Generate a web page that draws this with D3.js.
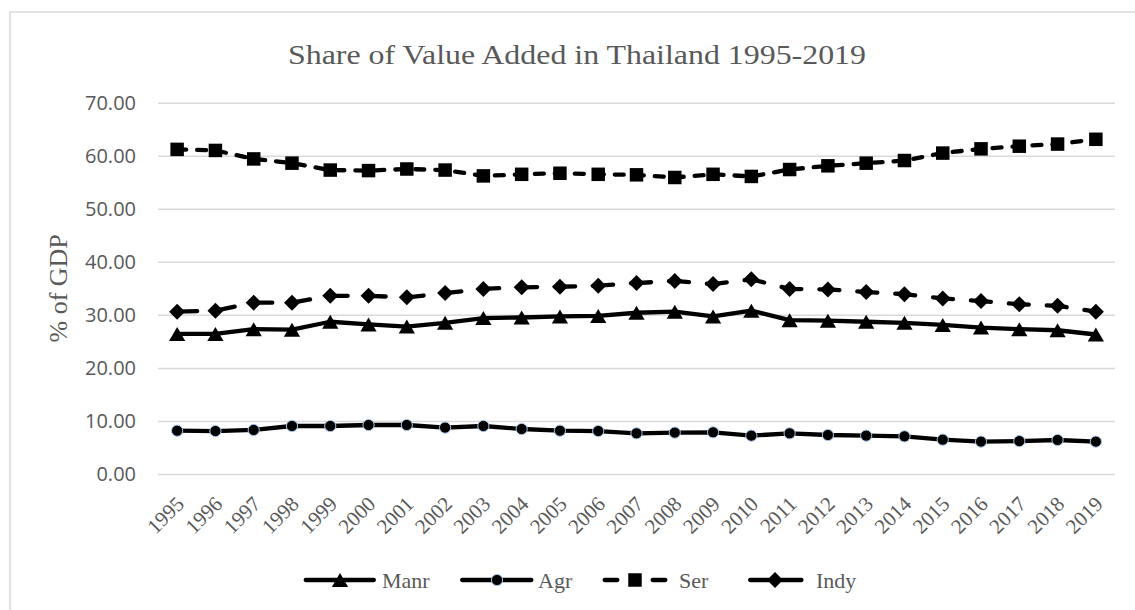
<!DOCTYPE html>
<html>
<head>
<meta charset="utf-8">
<script src="https://cdn.jsdelivr.net/npm/d3@7"></script>
<style>
  html, body { margin: 0; padding: 0; background: #ffffff; }
  svg { display: block; }
</style>
</head>
<body>
<svg id="chart" width="1135" height="610"></svg>
<script>
// ---------------- data ----------------
const years = ["1995","1996","1997","1998","1999","2000","2001","2002","2003","2004","2005","2006","2007","2008","2009","2010","2011","2012","2013","2014","2015","2016","2017","2018","2019"];
const manr = [26.4,26.4,27.3,27.2,28.7,28.2,27.8,28.5,29.4,29.5,29.7,29.8,30.4,30.6,29.7,30.8,29.0,28.9,28.7,28.5,28.1,27.6,27.3,27.1,26.3];
const agr  = [8.16,8.10,8.30,9.05,9.05,9.24,9.24,8.74,9.05,8.48,8.16,8.10,7.67,7.80,7.86,7.23,7.67,7.35,7.23,7.10,6.47,6.10,6.20,6.41,6.10];
const ser  = [61.2,61.0,59.4,58.6,57.3,57.2,57.5,57.3,56.2,56.5,56.7,56.5,56.4,55.9,56.5,56.1,57.4,58.1,58.6,59.1,60.5,61.3,61.8,62.2,63.1];
const indy = [30.6,30.8,32.3,32.3,33.6,33.6,33.3,34.1,34.9,35.2,35.3,35.5,36.0,36.4,35.8,36.7,34.9,34.8,34.3,33.9,33.1,32.6,32.0,31.7,30.6];
const yTicks = [0,10,20,30,40,50,60,70];
const seriesNames = ["Manr","Agr","Ser","Indy"];
const titleText = "Share of Value Added in Thailand 1995-2019";
const yTitleText = "% of GDP";

// ---------------- layout ----------------
const svg = d3.select("#chart");
const W = 1135, H = 610;
const plot = {left: 158, right: 1115, top: 102.7, bottom: 474};
const gray = "#595959";
const serif = "'Liberation Serif', 'Times New Roman', serif";
const sans = "'Open Sans', 'Liberation Sans', sans-serif";
const LW = 4.3;

svg.append("rect").attr("width", W).attr("height", H).attr("fill", "#fff");
// chart border
svg.append("rect")
  .attr("x", 10).attr("y", 12).attr("width", 1140).attr("height", 610)
  .attr("fill", "none").attr("stroke", "#d9d9d9").attr("stroke-width", 1.5);

const x = d3.scaleBand().domain(years).range([plot.left, plot.right]);
const cx = d => x(d) + x.bandwidth() / 2;
const y = d3.scaleLinear().domain([0, 70]).range([plot.bottom, plot.top]);

// gridlines + y axis
const yAxis = d3.axisLeft(y).tickValues(yTicks).tickFormat(d3.format(".2f"))
  .tickSize(-(plot.right - plot.left)).tickPadding(22);
const gy = svg.append("g").attr("transform", `translate(${plot.left},0)`).call(yAxis);
gy.select(".domain").remove();
gy.selectAll(".tick line").attr("stroke", "#d9d9d9").attr("stroke-width", 1.5);
gy.selectAll(".tick text").attr("fill", gray).style("font-family", sans).style("font-size", "20px");

// x axis labels
const xAxis = d3.axisBottom(x).tickSize(0).tickPadding(0);
const gx = svg.append("g").attr("transform", `translate(0,${plot.bottom})`).call(xAxis);
gx.select(".domain").remove();
gx.selectAll(".tick text")
  .attr("fill", gray).style("font-family", serif).style("font-size", "21px")
  .attr("text-anchor", "end")
  .attr("y", 0).attr("dy", "0.35em")
  .attr("transform", "translate(3,26) rotate(-45)");

// titles
svg.append("text").attr("x", 577).attr("y", 64).attr("text-anchor", "middle")
  .attr("textLength", 578).attr("lengthAdjust", "spacingAndGlyphs")
  .attr("fill", gray).style("font-family", serif).style("font-size", "28px").text(titleText);
svg.append("text").attr("transform", `translate(67,${(plot.top + plot.bottom) / 2}) rotate(-90)`)
  .attr("text-anchor", "middle").attr("fill", gray)
  .style("font-family", serif).style("font-size", "26px").text(yTitleText);

// marker shapes
const triangle = { draw(ctx, size) { const s = Math.sqrt(size); ctx.moveTo(0, -s/2); ctx.lineTo(s*0.58, s/2); ctx.lineTo(-s*0.58, s/2); ctx.closePath(); } };
const diamond  = { draw(ctx, size) { const s = Math.sqrt(size)/2; ctx.moveTo(0, -s); ctx.lineTo(s, 0); ctx.lineTo(0, s); ctx.lineTo(-s, 0); ctx.closePath(); } };

// legend geometry: line start x, line length, marker offset, text x, dash pieces
const series = [
  {name: seriesNames[0], values: manr, dash: null,    sym: triangle,        size: 14*14, fill: "#000", stroke: "none",
   lg: {x0: 303.6, len: 72.4, mk: 36.4, tx: 382, pieces: [[0, 72.4]]}},
  {name: seriesNames[1], values: agr,  dash: null,    sym: d3.symbolCircle, size: Math.PI*5.6*5.6, fill: "#000", stroke: "#a9c4eb",
   lg: {x0: 460, len: 73.5, mk: 37, tx: 538, pieces: [[0, 73.5]]}},
  {name: seriesNames[2], values: ser,  dash: "9,11",  sym: d3.symbolSquare, size: 13.5*13.5, fill: "#000", stroke: "none",
   lg: {x0: 602.5, len: 65, mk: 32.5, tx: 679, pieces: [[0, 17], [48, 65]]}},
  {name: seriesNames[3], values: indy, dash: "20,18", sym: diamond,         size: 16*16, fill: "#000", stroke: "none",
   lg: {x0: 748, len: 55.6, mk: 27, tx: 816, pieces: [[0, 23], [31, 55.6]]}}
];

const line = d3.line().x((d, i) => cx(years[i])).y(d => y(d));

series.forEach(s => {
  svg.append("path").datum(s.values)
    .attr("d", line).attr("fill", "none").attr("stroke", "#000")
    .attr("stroke-width", LW).attr("stroke-linejoin", "round").attr("stroke-linecap", "round")
    .attr("stroke-dasharray", s.dash);
  svg.append("g").selectAll("path").data(s.values).join("path")
    .attr("transform", (d, i) => `translate(${cx(years[i])},${y(d)})`)
    .attr("d", d3.symbol().type(s.sym).size(s.size))
    .attr("fill", s.fill).attr("stroke", s.stroke).attr("stroke-width", 1);
});

// legend
const legendY = 580;
series.forEach(s => {
  const g = svg.append("g").attr("transform", `translate(${s.lg.x0},${legendY})`);
  s.lg.pieces.forEach(p => {
    g.append("line").attr("x1", p[0] + LW/2).attr("x2", p[1] - LW/2).attr("y1", 0).attr("y2", 0)
      .attr("stroke", "#000").attr("stroke-width", LW).attr("stroke-linecap", "round");
  });
  g.append("path").attr("transform", `translate(${s.lg.mk},0)`)
    .attr("d", d3.symbol().type(s.sym).size(s.size))
    .attr("fill", s.fill).attr("stroke", s.stroke).attr("stroke-width", 1);
  g.append("text").attr("x", s.lg.tx - s.lg.x0).attr("y", 0).attr("dy", "0.35em")
    .attr("fill", gray).style("font-family", serif).style("font-size", "22px").text(s.name);
});
</script>
</body>
</html>
